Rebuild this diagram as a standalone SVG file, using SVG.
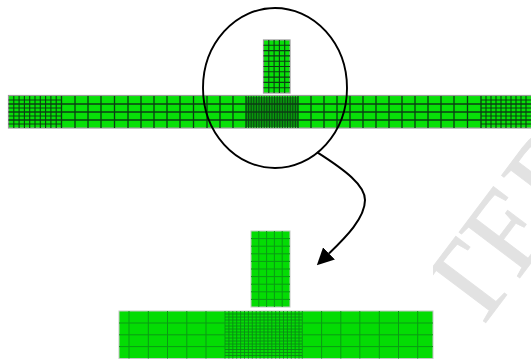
<svg xmlns="http://www.w3.org/2000/svg" width="531" height="360" viewBox="0 0 531 360">
<style>
.top{fill:#08e008;stroke:#999;stroke-width:1.2}
.tl{fill:none;stroke:#0c3c14;stroke-width:1.3}
.tf{fill:none;stroke:#0c3c14;stroke-width:1.1}
.tv{fill:none;stroke:#0c3c14;stroke-width:.9}
.low{fill:#04dc04;stroke:#c4c8c4;stroke-width:1}
.ll{fill:none;stroke:#0a9a14;stroke-width:1}
.lf{fill:none;stroke:#0a8a14;stroke-width:.9}
.wm{font-family:"Liberation Serif",serif;font-size:116px;fill:#e2e2e2;stroke:#e2e2e2;stroke-width:.8}
</style>
<defs>
<marker id="ah" markerUnits="userSpaceOnUse" markerWidth="17" markerHeight="17" viewBox="0 0 16 16" refX="0" refY="8" orient="auto"><path d="M0,0 L16,8 L0,16 z" fill="#000"/></marker>
<clipPath id="wmclip"><rect x="433" y="130" width="98" height="230"/></clipPath>
</defs>
<g id="watermark" clip-path="url(#wmclip)"><text class="wm" transform="translate(475,337) rotate(-53)">TED</text></g>
<g id="upper-mesh">
<rect class="top" x="8.5" y="95.5" width="523" height="32.5"/>
<path class="tl" d="M8.5,104H531M8.5,112H531M8.5,120H531M61.500,96V128M75,96V128M88,96V128M101,96V128M114.500,96V128M128,96V128M141,96V128M154,96V128M167,96V128M180,96V128M193.500,96V128M207,96V128M220,96V128M233,96V128M246,96V128M298,96V128M311,96V128M324,96V128M337,96V128M350,96V128M363,96V128M376,96V128M389,96V128M402,96V128M415,96V128M428,96V128M441,96V128M454,96V128M467.500,96V128M481,96V128"/>
<path class="tf" d="M8.500,100H61.500M8.500,108H61.500M8.500,116H61.500M8.500,124H61.500M13.800,96V128M19.100,96V128M24.400,96V128M29.700,96V128M35,96V128M40.300,96V128M45.600,96V128M50.900,96V128M56.200,96V128"/>
<path class="tf" d="M481,100H531M481,108H531M481,116H531M481,124H531M486,96V128M491,96V128M496,96V128M501,96V128M506,96V128M511,96V128M516,96V128M521,96V128M526,96V128"/>
<path class="tv" d="M246,98H298M246,100H298M246,102H298M246,104H298M246,106H298M246,108H298M246,110H298M246,112H298M246,114H298M246,116H298M246,118H298M246,120H298M246,122H298M246,124H298M246,126H298M248.600,96V128M251.200,96V128M253.800,96V128M256.400,96V128M259,96V128M261.600,96V128M264.200,96V128M266.800,96V128M269.400,96V128M272,96V128M274.600,96V128M277.200,96V128M279.800,96V128M282.400,96V128M285,96V128M287.600,96V128M290.200,96V128M292.800,96V128M295.400,96V128"/>
</g>
<g id="upper-stub">
<rect class="top" x="263.500" y="40" width="26.500" height="53"/>
<path class="tf" d="M268.800,40V93M274.100,40V93M279.400,40V93M284.700,40V93M263.500,45.300H290M263.500,50.600H290M263.500,55.900H290M263.500,61.200H290M263.500,66.500H290M263.500,71.800H290M263.500,77.100H290M263.500,82.400H290M263.500,87.700H290"/>
</g>
<g id="lens"><ellipse cx="275" cy="88" rx="72" ry="80" fill="none" stroke="#000" stroke-width="1.900"/></g>
<g id="connectors"><path d="M317.300,152.300 C345,170 365,185 365,200 C365,218 346,237 329,253.500" fill="none" stroke="#000" stroke-width="2" marker-end="url(#ah)"/></g>
<g id="lower-stub">
<rect class="low" x="251" y="231" width="39" height="76"/>
<path class="ll" d="M258.800,231V307M266.600,231V307M274.400,231V307M282.200,231V307M251,238.600H290M251,246.200H290M251,253.800H290M251,261.400H290M251,269H290M251,276.600H290M251,284.200H290M251,291.800H290M251,299.400H290"/>
</g>
<g id="lower-mesh">
<rect class="low" x="119" y="311" width="314" height="47.500"/>
<path class="ll" d="M119,323H433M119,334.800H433M119,346.600H433M129,311V358.500M148.300,311V358.500M167.500,311V358.500M186.800,311V358.500M206,311V358.500M225,311V358.500M302.300,311V358.500M321.600,311V358.500M340.800,311V358.500M359.800,311V358.500M379.300,311V358.500M398.500,311V358.500M417.700,311V358.500"/>
<path class="lf" d="M225,314H302M225,317H302M225,320H302M225,326H302M225,329H302M225,332H302M225,338H302M225,341H302M225,344H302M225,349.500H302M225,352.500H302M225,355.500H302M228.900,311V358.500M232.800,311V358.500M236.700,311V358.500M240.600,311V358.500M244.500,311V358.500M248.400,311V358.500M252.300,311V358.500M256.200,311V358.500M260.100,311V358.500M264,311V358.500M267.900,311V358.500M271.800,311V358.500M275.700,311V358.500M279.600,311V358.500M283.500,311V358.500M287.400,311V358.500M291.300,311V358.500M295.200,311V358.500M299,311V358.500"/>
</g>
</svg>
